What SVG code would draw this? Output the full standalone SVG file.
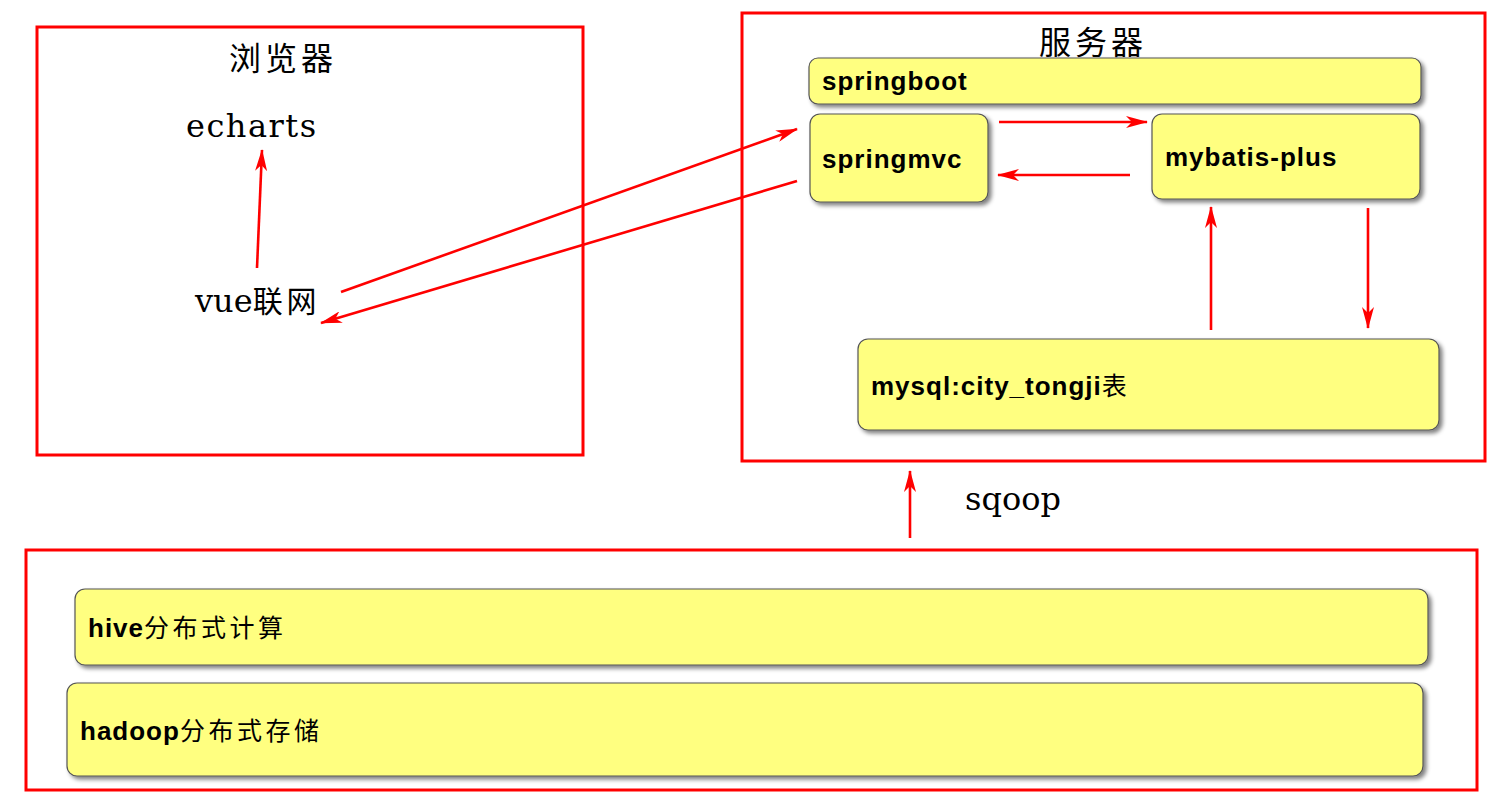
<svg xmlns="http://www.w3.org/2000/svg" width="1488" height="806" viewBox="0 0 1488 806">
<style>
.frame{fill:none;stroke:#ff0000;stroke-width:3}
.box{fill:#ffff80;stroke:#555555;stroke-width:1.2;filter:url(#sh)}
.lbl{font-family:"Liberation Sans",Arial,"Noto Sans CJK SC",sans-serif;font-weight:bold;font-size:26px;letter-spacing:1px;fill:#000}
.cjk{font-family:"Noto Sans CJK SC",sans-serif;font-weight:normal;font-size:25px;letter-spacing:3.5px}
.title{font-family:"Noto Sans CJK SC",serif;font-size:32px;letter-spacing:4px;fill:#000}
.ser{font-family:"DejaVu Serif","Liberation Serif","Noto Sans CJK SC",serif;font-size:32px;fill:#000}
.conn{stroke:#ff0000;stroke-width:2.6;fill:none;marker-end:url(#ah)}
</style>
<defs>
<filter id="sh" x="-5%" y="-20%" width="110%" height="150%">
<feGaussianBlur in="SourceAlpha" stdDeviation="2"/>
<feOffset dx="3" dy="3" result="b"/>
<feComponentTransfer><feFuncA type="linear" slope="0.5"/></feComponentTransfer>
<feMerge><feMergeNode/><feMergeNode in="SourceGraphic"/></feMerge>
</filter>
<marker id="ah" viewBox="0 0 22 12" refX="21" refY="6" markerWidth="22" markerHeight="12" markerUnits="userSpaceOnUse" orient="auto">
<path d="M0,0 L22,6 L0,12 L6,6 z" fill="#ff0000"/>
</marker>
</defs>
<rect width="1488" height="806" fill="#ffffff"/>

<g id="browser">
<rect class="frame" x="37" y="27" width="546" height="428"/>
<text class="title" x="229" y="70">浏览器</text>
</g>
<g id="echarts"><text class="ser" x="186" y="137" letter-spacing="1.5">echarts</text></g>
<g id="vue"><text class="ser" x="195" y="312">vue<tspan font-family="Noto Sans CJK SC,sans-serif" font-size="30" letter-spacing="4">联网</tspan></text></g>

<g id="server">
<rect class="frame" x="742" y="13" width="743" height="448"/>
<text class="title" x="1039" y="54">服务器</text>
</g>
<g id="springboot">
<rect class="box" x="809" y="58" width="612" height="46" rx="9"/>
<text class="lbl" x="822" y="90">springboot</text>
</g>
<g id="springmvc">
<rect class="box" x="810" y="114" width="178" height="88" rx="10"/>
<text class="lbl" x="822" y="168">springmvc</text>
</g>
<g id="mybatis">
<rect class="box" x="1152" y="114" width="268" height="85" rx="10"/>
<text class="lbl" x="1165" y="166">mybatis-plus</text>
</g>
<g id="mysql">
<rect class="box" x="858" y="339" width="581" height="91" rx="10"/>
<text class="lbl" x="871" y="395">mysql:city_tongji<tspan class="cjk">表</tspan></text>
</g>

<g id="sqoop"><text class="ser" x="965" y="510" font-size="30">sqoop</text></g>

<g id="bigdata">
<rect class="frame" x="26" y="550" width="1451" height="240"/>
</g>
<g id="hive">
<rect class="box" x="75" y="589" width="1353" height="76" rx="10"/>
<text class="lbl" x="88" y="637">hive<tspan class="cjk">分布式计算</tspan></text>
</g>
<g id="hadoop">
<rect class="box" x="67" y="683" width="1356" height="93" rx="10"/>
<text class="lbl" x="80" y="740">hadoop<tspan class="cjk">分布式存储</tspan></text>
</g>

<g id="connectors">
<line class="conn" x1="257" y1="268" x2="262" y2="150"/>
<line class="conn" x1="341" y1="292" x2="797" y2="129"/>
<line class="conn" x1="797" y1="181" x2="321" y2="323"/>
<line class="conn" x1="999" y1="122" x2="1147" y2="122"/>
<line class="conn" x1="1130" y1="175" x2="998" y2="175"/>
<line class="conn" x1="1211" y1="330" x2="1211" y2="207"/>
<line class="conn" x1="1368" y1="208" x2="1368" y2="328"/>
<line class="conn" x1="910" y1="538" x2="910" y2="471"/>
</g>
</svg>
